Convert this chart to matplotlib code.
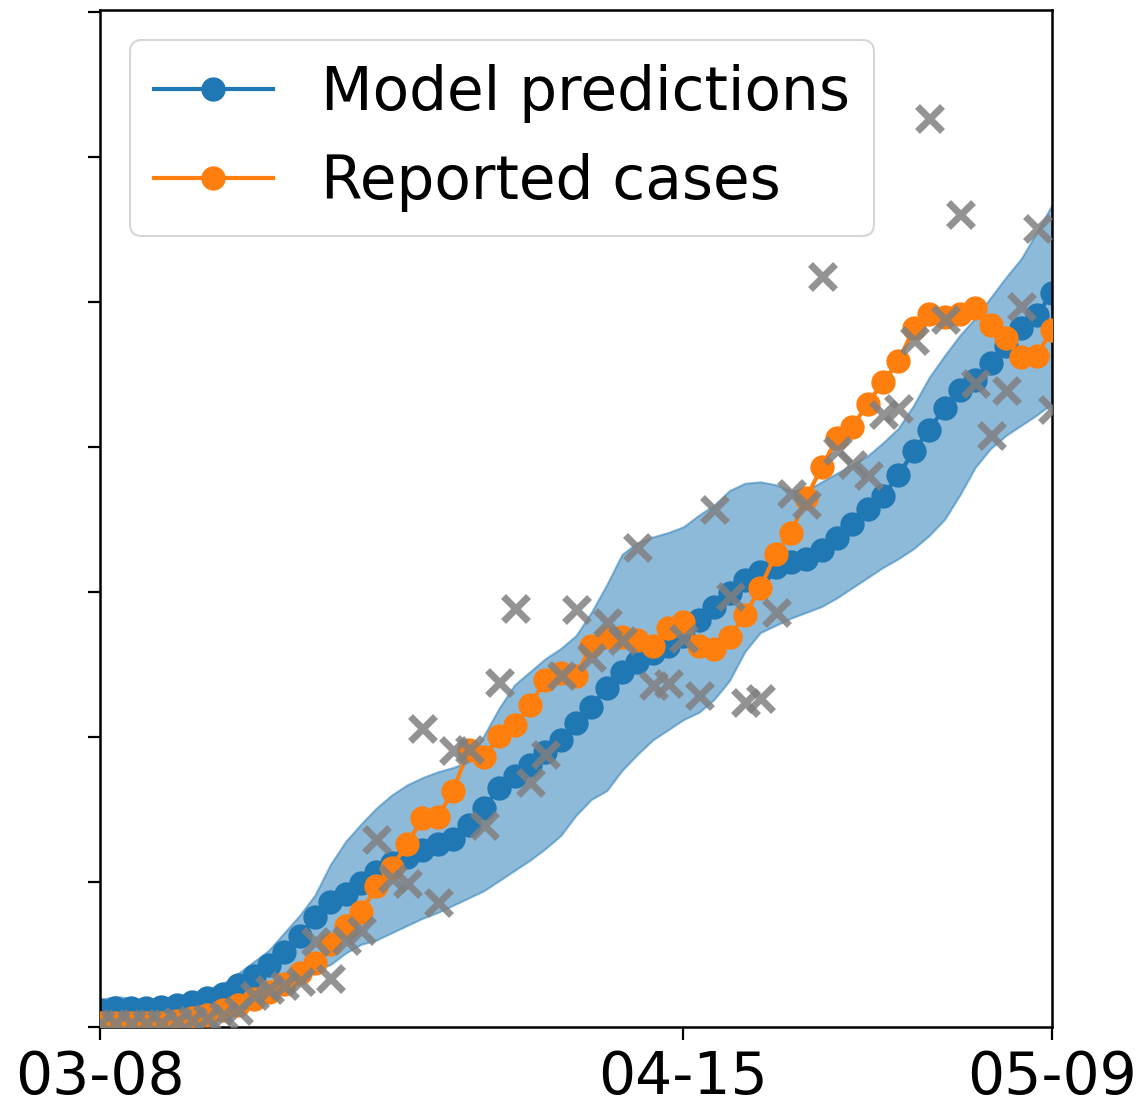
import matplotlib
matplotlib.use("Agg")
import matplotlib.pyplot as plt
import matplotlib.dates as mdates
import pandas as pd
import numpy as np

dates = pd.date_range("2020-03-08", "2020-05-09", freq="D")
tick_dates = ["2020-03-08", "2020-04-15", "2020-05-09"]

model_pred = [12, 13, 13, 13, 14, 15, 17, 20, 23, 29, 35, 43, 52, 63, 76, 86,
              92, 99, 107, 113, 117, 122, 126, 130, 139, 151, 165, 173, 181, 190, 198,
              210, 221, 234, 245, 252, 258, 263, 270, 281, 290, 299, 308, 314, 317, 321,
              323, 329, 337, 347, 357, 366, 381, 397, 412, 427, 439, 446, 458, 470, 482,
              491, 506]

reported = [3, 3, 3, 3, 3, 4, 6, 8, 12, 15, 19, 24, 30, 37, 44, 57,
            70, 79, 97, 110, 126, 144, 145, 163, 191, 186, 201, 208, 222, 239, 244,
            242, 263, 269, 269, 267, 263, 275, 279, 263, 261, 269, 284, 303, 326, 341,
            365, 386, 406, 414, 430, 445, 459, 482, 492, 490, 492, 496, 484, 475, 462,
            463, 481]

upper = [19, 21, 20, 19, 20, 21, 23, 26, 30, 37, 45, 53, 65, 77, 91, 112,
         128, 140, 151, 160, 167, 172, 176, 179, 183, 201, 220, 236, 245, 254, 261,
         270, 286, 305, 326, 334, 338, 341, 345, 353, 360, 370, 375, 376, 374, 370,
         370, 376, 382, 388, 394, 403, 413, 429, 448, 463, 477, 489, 503, 517, 530,
         548, 567]

lower = [3, 3, 3, 3, 4, 5, 6, 8, 11, 14, 19, 23, 29, 34, 39, 43,
         51, 57, 60, 65, 70, 75, 79, 84, 89, 94, 101, 108, 115, 123, 132,
         146, 157, 163, 177, 188, 198, 205, 212, 217, 226, 239, 259, 272, 277, 282,
         286, 290, 296, 303, 310, 317, 323, 330, 339, 350, 367, 386, 399, 408, 415,
         422, 430]

daily_raw = [3, 3, 3, 3, 3, 4, 5, 6, 8, 12, 22, 26, 29, 32, 59, 34,
             60, 67, 130, 103, 99, 206, 86, 191, 192, 139, 238, 289, 169, 188, 243,
             288, 255, 279, 267, 331, 236, 237, 268, 229, 357, 297, 224, 227, 286, 368,
             361, 518, 398, 388, 381, 423, 427, 474, 627, 488, 561, 444, 408, 439, 497,
             551, 426]

blue = "#1f77b4"
orange = "#ff7f0e"

fig = plt.figure(figsize=(11.44, 11.06), dpi=100)
ax = fig.add_axes([100 / 1144, 1 - 1027 / 1106, 952 / 1144, 1017 / 1106])

ax.fill_between(dates, lower, upper, facecolor=blue, alpha=0.5, edgecolor=blue,
                linewidth=1.5, zorder=1)
ax.plot(dates, model_pred, "-o", color=blue, lw=3, ms=16.5, label="Model predictions", zorder=2)
ax.plot(dates, reported, "-o", color=orange, lw=3, ms=16.5, label="Reported cases", zorder=3)
ax.plot(dates, daily_raw, "x", color="gray", ms=18, mew=5, alpha=0.85, zorder=4)

ax.set_xlim(dates[0], dates[-1])
ax.set_ylim(0, 701.4)
ax.set_xticks(pd.to_datetime(tick_dates))
ax.xaxis.set_major_formatter(mdates.DateFormatter("%m-%d"))
ax.set_yticks(np.arange(0, 701, 100))
ax.set_yticklabels([])

for s in ax.spines.values():
    s.set_linewidth(1.8)
ax.tick_params(axis="both", length=9, width=1.6, labelsize=42, pad=7)

leg = ax.legend(loc="upper left", fontsize=43, handlelength=2.0, handletextpad=0.8,
                borderaxespad=0.5, framealpha=0.8)
leg.get_frame().set_linewidth(1.5)

fig.savefig("out.png", dpi=100)
